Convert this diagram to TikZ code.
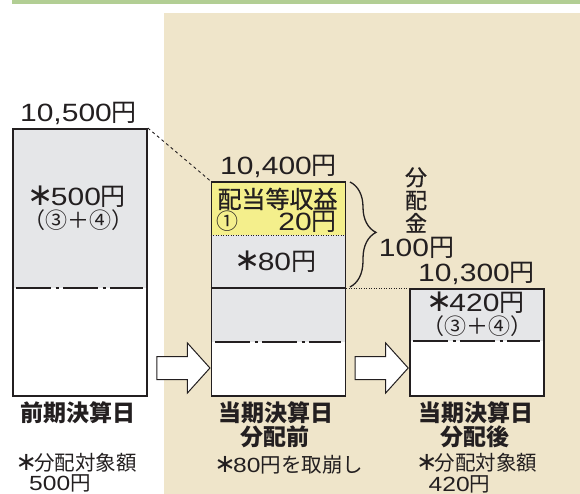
\documentclass[tikz,border=0pt]{standalone}
\usepackage{fontspec}
\setmainfont{Noto Sans CJK JP}
\newfontfamily\nf[FakeStretch=1.2]{Liberation Sans}
\newfontfamily\djv{DejaVu Sans}
\newfontfamily\cjkm[FakeBold=0.8]{Noto Sans CJK JP}
\usetikzlibrary{shapes.arrows,decorations.pathreplacing}
\definecolor{ink}{RGB}{35,31,32}
\definecolor{greenbar}{RGB}{178,206,148}
\definecolor{beige}{RGB}{239,229,202}
\definecolor{grayfill}{RGB}{229,230,232}
\definecolor{yellowfill}{RGB}{244,239,140}
\newcommand\fsz[1]{\fontsize{#1}{#1}\selectfont}
\newcommand\myast{{\djv\fontsize{1.25em}{1em}\selectfont\hspace{-0.1em}∗\hspace{-0.1em}}}
\begin{document}
\begin{tikzpicture}[x=1pt,y=-1pt,
  boxframe/.style={draw=ink,line width=1.8pt,rectangle,inner sep=0pt,minimum width=134pt,anchor=north west},
  dashdot/.style={draw=ink,line width=1.1pt,dash pattern=on 35pt off 4.5pt on 3pt off 4.5pt},
  dashconn/.style={draw=ink,line width=0.9pt,dash pattern=on 3pt off 3pt},
  dotconn/.style={draw=ink,line width=0.9pt,dash pattern=on 1pt off 1.5pt},
  blockarrow/.style={single arrow,draw=ink,fill=white,line width=1pt,inner xsep=0pt,inner ysep=11pt,
    minimum height=53pt,single arrow head extend=13.5pt,
    single arrow tip angle=96,text height=0pt,text depth=0pt,text width=0pt},
  txt/.style={inner sep=0pt,text=ink,text depth=0pt},
  bignum/.style={txt,font=\fsz{25},text height=18pt},
  midnum/.style={txt,font=\fsz{25},text height=18pt},
  paren/.style={txt,font=\fsz{22},text height=17pt},
  cjk22/.style={txt,font=\fsz{22}\cjkm,text height=17pt},
  lbl/.style={txt,font=\fsz{23}\bfseries,text height=17.5pt},
  note/.style={txt,font=\fsz{20.5},text height=15.5pt},
]
\useasboundingbox (0,0) rectangle (580,494);
\fill[greenbar] (12,0) rectangle (580,4.5);
\fill[beige] (164,13) rectangle (580,494);

% left box
\fill[grayfill] (12,128) rectangle (146,288);
\fill[white] (12,288) rectangle (146,395);
\draw[dashdot] (16,288) -- (143,288);
\node[boxframe,minimum height=267pt] (b1) at (12,128) {};

% middle box
\fill[yellowfill] (210.5,181) rectangle (344.5,235);
\fill[grayfill] (210.5,235) rectangle (344.5,342);
\fill[white] (210.5,342) rectangle (344.5,395);
\draw[dotconn] (210.5,235) -- (344.5,235);
\draw[ink,line width=1.4pt] (210.5,288) -- (344.5,288);
\draw[dashdot] (215,342) -- (341,342);
\node[boxframe,minimum height=214pt] (b2) at (210.5,181) {};

% right box
\fill[grayfill] (409,288) rectangle (543,341);
\fill[white] (409,341) rectangle (543,395);
\draw[dashdot] (413,341) -- (540,341);
\node[boxframe,minimum height=107pt] (b3) at (409,288) {};

% connectors
\draw[dashconn] (b1.north east) -- (b2.north west);
\draw[dotconn] (b2.east |- b3.north west) -- (b3.north west);

% brace
\coordinate (bt) at (350,182);
\coordinate (bb) at (350,287);
\draw[ink,line width=1.3pt,decorate,decoration={brace,amplitude=26pt,aspect=0.48}] (bt) -- (bb);

% arrows
\node[blockarrow] (a1) at (178.25,368) {};
\node[blockarrow] (a2) at (376.5,368) {};

% texts
\node[bignum] (t1) at (78.5,113) {{\nf 10,500}円};
\node[midnum] (t2) at (78.5,197) {\myast{\nf 500}円};
\node[paren] (t3) at (78.5,220) {（③＋④）};
\node[bignum] (t4) at (278.5,166) {{\nf 10,400}円};
\node[txt,font=\fsz{24}\cjkm,text height=18.2pt] (t5) at (277.5,199) {配当等収益};
\node[paren] (t6) at (227.5,221) {①};
\node[bignum,anchor=east] (t7) at (337,221) {{\nf 20}円};
\node[midnum] (t8) at (277,261) {\myast{\nf 80}円};
\node[cjk22] (t9) at (416,177) {分};
\node[cjk22] (t10) at (416,200) {配};
\node[cjk22] (t11) at (416,223) {金};
\node[bignum] (t12) at (416.5,247) {{\nf 100}円};
\node[bignum] (t13) at (476.5,272) {{\nf 10,300}円};
\node[midnum] (t14) at (477,302) {\myast{\nf 420}円};
\node[paren] (t15) at (477,326) {（③＋④）};

\node[lbl] (l1) at (78,413) {前期決算日};
\node[lbl] (l2) at (275.5,413) {当期決算日};
\node[lbl] (l3) at (275,437) {分配前};
\node[lbl] (l4) at (475.5,413) {当期決算日};
\node[lbl] (l5) at (475,437) {分配後};

\node[note] (n1) at (77.5,463) {\myast 分配対象額};
\node[note] (n2) at (60,483) {{\nf 500}円};
\node[note] (n3) at (290,465) {\myast{\nf 80}円を取崩し};
\node[note] (n4) at (478,463) {\myast 分配対象額};
\node[note] (n5) at (459.5,484) {{\nf 420}円};
\end{tikzpicture}
\end{document}
